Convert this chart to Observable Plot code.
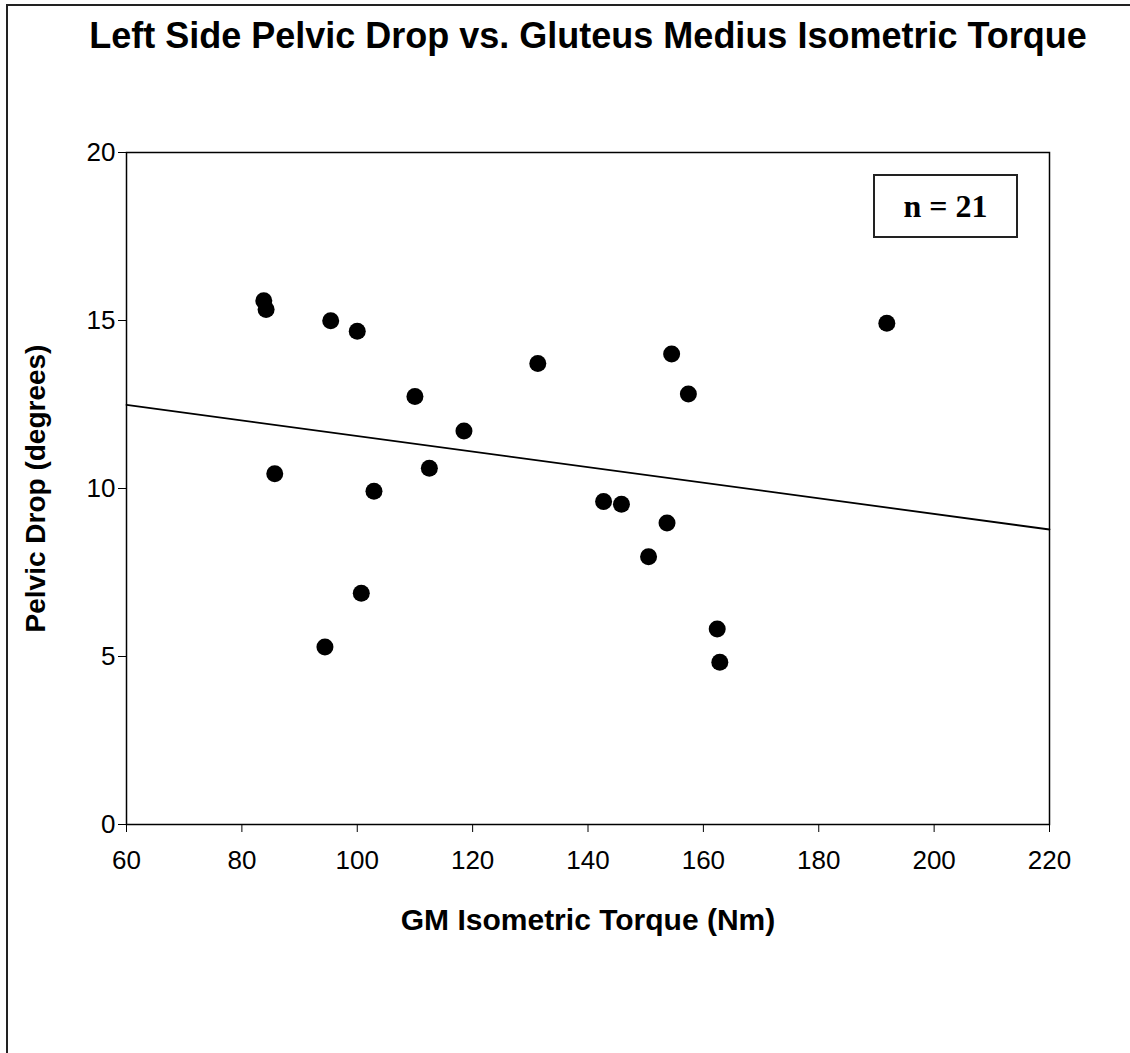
<!DOCTYPE html>
<html>
<head>
<meta charset="utf-8">
<script src="https://cdn.jsdelivr.net/npm/d3@7"></script>
<script src="https://cdn.jsdelivr.net/npm/@observablehq/plot@0.6"></script>
<style>
  body { margin: 0; background: #fff; }
  #wrap { position: relative; width: 1130px; height: 1053px; overflow: hidden; background: #fff; }
  #border { position: absolute; left: 6px; top: 4px; width: 1140px; height: 1070px; border-left: 2px solid #222; border-top: 2px solid #222; box-sizing: border-box; pointer-events: none; }
  #title { position: absolute; left: 88px; width: 1000px; top: 13px; text-align: center; font-family: "Liberation Sans", Arial, sans-serif; font-weight: bold; font-size: 36px; line-height: 46px; color: #000; white-space: nowrap; }
  #chart { position: absolute; left: 0; top: 0; }
  #nbox { position: absolute; left: 873px; top: 174px; width: 145px; height: 64px; border: 2px solid #222; box-sizing: border-box; font-family: "Liberation Serif", "Times New Roman", serif; font-weight: bold; font-size: 32px; line-height: 60px; text-align: center; color: #000; }
</style>
</head>
<body>
<div id="wrap">
  <div id="chart"></div>
  <div id="border"></div>
  <div id="title">Left Side Pelvic Drop vs. Gluteus Medius Isometric Torque</div>
  <div id="nbox">n = 21</div>
</div>
<script>
// GM isometric torque (Nm) for each subject
const torque = [83.8, 84.2, 85.7, 95.4, 100.0, 94.4, 100.7, 102.9, 110.0, 112.5, 118.5, 131.3, 142.7, 145.8, 150.5, 153.7, 154.5, 157.4, 162.4, 162.85, 191.8];
// Left side pelvic drop (degrees)
const pelvicDrop = [15.59, 15.33, 10.44, 14.99, 14.68, 5.28, 6.88, 9.92, 12.74, 10.60, 11.71, 13.72, 9.61, 9.53, 7.97, 8.97, 14.0, 12.81, 5.82, 4.83, 14.92];
// Regression line end points (as drawn)
const fitX = [60, 220];
const fitY = [12.49, 8.78];
// Axis ticks
const xTicks = [60, 80, 100, 120, 140, 160, 180, 200, 220];
const yTicks = [0, 5, 10, 15, 20];

const points = torque.map((t, i) => ({torque: t, drop: pelvicDrop[i]}));
const fit = fitX.map((x, i) => ({x, y: fitY[i]}));

const font = '"Liberation Sans", Arial, sans-serif';

const chart = Plot.plot({
  width: 1130,
  height: 1053,
  marginLeft: 126,
  marginRight: 81,
  marginTop: 152,
  marginBottom: 229,
  style: {fontFamily: font, fontSize: "26px", color: "#000", background: "transparent"},
  x: {domain: [60, 220]},
  y: {domain: [0, 20]},
  marks: [
    Plot.axisX({ticks: xTicks, tickSize: 8, tickPadding: 18, label: null, fontSize: 26}),
    Plot.axisY({ticks: yTicks, tickSize: 8, tickPadding: 3, label: null, fontSize: 26}),
    Plot.frame({stroke: "#000", strokeWidth: 1.5}),
    Plot.line(fit, {x: "x", y: "y", stroke: "#000", strokeWidth: 1.8}),
    Plot.dot(points, {x: "torque", y: "drop", r: 8.5, fill: "#000", stroke: "none"}),
    Plot.text(["GM Isometric Torque (Nm)"], {frameAnchor: "bottom", dy: 96, text: d => d, fontSize: 30, fontWeight: "bold", fontFamily: font, lineAnchor: "middle", textAnchor: "middle"}),
    Plot.text(["Pelvic Drop (degrees)"], {frameAnchor: "left", dx: -90, rotate: -90, text: d => d, fontSize: 28, fontWeight: "bold", fontFamily: font, lineAnchor: "middle", textAnchor: "middle"})
  ]
});
document.getElementById("chart").append(chart);
</script>
</body>
</html>
